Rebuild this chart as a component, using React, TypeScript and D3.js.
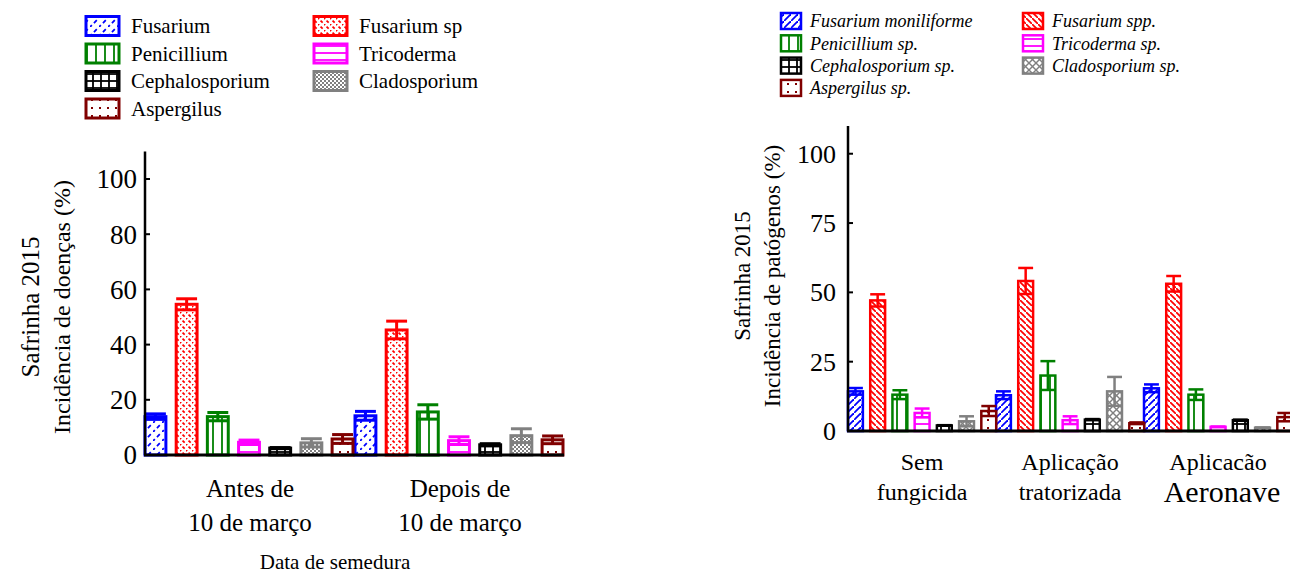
import React, { useEffect, useRef } from 'react';
import * as d3 from 'd3';

// left panel: sowing date
const groupsLeft = [['Antes de', '10 de março'], ['Depois de', '10 de março']];
const fungiLeft = ['Fusarium', 'Fusarium sp', 'Penicillium', 'Tricoderma', 'Cephalosporium', 'Cladosporium', 'Aspergilus'];
const meanLeft = [
  [13.9, 14.2],
  [54.6, 45.3],
  [13.9, 15.6],
  [4.6, 5.2],
  [2.5, 3.7],
  [4.4, 7.0],
  [5.8, 5.5],
];
const errLeft = [
  [1.0, 1.6],
  [2.0, 3.2],
  [1.5, 2.6],
  [0.8, 1.4],
  [0.2, 0.4],
  [1.5, 2.5],
  [1.6, 1.4],
];
const ticksLeft = [0, 20, 40, 60, 80, 100];

// right panel: fungicide application
const groupsRight = [['Sem', 'fungicida'], ['Aplicação', 'tratorizada'], ['Aplicacão', 'Aeronave']];
const fungiRight = ['Fusarium moniliforme', 'Fusarium spp.', 'Penicillium sp.', 'Tricoderma sp.', 'Cephalosporium sp.', 'Cladosporium sp.', 'Aspergilus sp.'];
const meanRight = [
  [14.3, 12.9, 15.4],
  [47.1, 54.1, 53.1],
  [13.1, 20.0, 13.1],
  [6.5, 3.9, 1.5],
  [2.0, 4.1, 3.9],
  [3.5, 14.3, 1.2],
  [7.2, 2.8, 5.0],
];
const errRight = [
  [1.2, 1.4, 1.4],
  [2.2, 4.7, 2.8],
  [1.6, 5.2, 1.9],
  [1.6, 1.4, 0.1],
  [0.1, 0.2, 0.2],
  [1.8, 5.2, 0.0],
  [1.8, 0.3, 1.5],
];
const ticksRight = [0, 25, 50, 75, 100];

const colors = ['#0000ff', '#ff0000', '#008000', '#ff00ff', '#000000', '#808080', '#800000'];
const FONT = "'Liberation Serif', 'Times New Roman', Times, serif";

type Defs = d3.Selection<SVGDefsElement, unknown, null, undefined>;

// hatch patterns, one per fungus
const addPatterns = (defs: Defs, prefix: string, dashed: boolean) => {
  const mk = (i: number, w: number, h: number) => {
    const p = defs.append('pattern')
      .attr('id', `${prefix}${i}`)
      .attr('patternUnits', 'userSpaceOnUse')
      .attr('width', w)
      .attr('height', h);
    p.append('rect').attr('width', w).attr('height', h).attr('fill', '#fff');
    return p;
  };
  const line = (p: any, x1: number, y1: number, x2: number, y2: number, c: string, sw = 1.6, da: string | null = null) =>
    p.append('line').attr('x1', x1).attr('y1', y1).attr('x2', x2).attr('y2', y2)
      .attr('stroke', c).attr('stroke-width', sw).attr('stroke-dasharray', da);

  // 0 Fusarium: "/" diagonals
  let s = dashed ? 9 : 7;
  let p = mk(0, s, s);
  line(p, -1, s + 1, s + 1, -1, colors[0], 1.8, dashed ? '4 3' : null);
  // 1 Fusarium sp: "\" diagonals
  s = 6;
  p = mk(1, s, s);
  line(p, -1, -1, s + 1, s + 1, colors[1], 1.7, dashed ? '3 2' : null);
  // 2 Penicillium: vertical lines
  p = mk(2, 9, 10);
  line(p, 6, 0, 6, 10, colors[2], 1.8);
  // 3 Tricoderma: horizontal lines
  p = mk(3, 10, 7);
  line(p, 0, 4, 10, 4, colors[3], 1.8);
  // 4 Cephalosporium: grid
  p = mk(4, 8, 7);
  line(p, 5, 0, 5, 7, colors[4], 1.8);
  line(p, 0, 4, 8, 4, colors[4], 1.8);
  // 5 Cladosporium: checker / crosshatch
  if (dashed) {
    p = mk(5, 4, 4);
    p.append('rect').attr('width', 2).attr('height', 2).attr('fill', colors[5]);
    p.append('rect').attr('x', 2).attr('y', 2).attr('width', 2).attr('height', 2).attr('fill', colors[5]);
  } else {
    p = mk(5, 7, 7);
    line(p, 0, 0, 7, 7, colors[5], 1.4);
    line(p, 0, 7, 7, 0, colors[5], 1.4);
  }
  // 6 Aspergilus: dots
  p = mk(6, 8, 8);
  p.append('rect').attr('x', 3).attr('y', 3).attr('width', 2).attr('height', 2).attr('fill', colors[6]);
};

const App = () => {
  const ref = useRef<SVGSVGElement>(null);

  useEffect(() => {
    if (!ref.current) return;
    const svg = d3.select(ref.current);
    svg.selectAll('*').remove();
    const defs = svg.append('defs');
    addPatterns(defs, 'pl', true);
    addPatterns(defs, 'pr', false);

    const drawPanel = (cfg: any) => {
      const g = svg.append('g');
      const y = d3.scaleLinear().domain([0, 110]).range(cfg.yRange);
      const x0 = d3.scaleBand<number>().domain(cfg.groups.map((_: any, i: number) => i)).range(cfg.xRange);
      const x1 = d3.scaleBand<number>().domain(d3.range(7)).range([0, cfg.innerWidth]).paddingInner(0.33);
      const bw = x1.bandwidth();

      // bars
      cfg.fungi.forEach((_: string, f: number) => {
        cfg.groups.forEach((_g: any, k: number) => {
          const v = cfg.mean[f][k];
          const e = cfg.err[f][k];
          const bx = x0(k)! + x1(f)!;
          g.append('rect')
            .attr('x', bx)
            .attr('y', y(v))
            .attr('width', bw)
            .attr('height', y(0) - y(v))
            .attr('fill', `url(#${cfg.pid}${f})`)
            .attr('stroke', colors[f])
            .attr('stroke-width', cfg.barStroke);
          // error bar
          const cx = bx + bw / 2;
          const eb = g.append('g').attr('stroke', colors[f]).attr('stroke-width', cfg.errStroke);
          eb.append('line').attr('x1', cx).attr('x2', cx).attr('y1', y(v - e)).attr('y2', y(v + e));
          [v - e, v + e].forEach((t) => {
            eb.append('line').attr('x1', bx).attr('x2', bx + bw).attr('y1', y(t)).attr('y2', y(t));
          });
        });
      });

      // axes
      const ax = cfg.xRange[0];
      g.append('line').attr('x1', ax).attr('x2', ax).attr('y1', y(0)).attr('y2', y(110))
        .attr('stroke', '#000').attr('stroke-width', 2.5);
      g.append('line').attr('x1', ax - 1).attr('x2', cfg.axisEnd).attr('y1', y(0)).attr('y2', y(0))
        .attr('stroke', '#000').attr('stroke-width', 3);
      cfg.ticks.forEach((t: number) => {
        g.append('line').attr('x1', ax).attr('x2', ax + 5).attr('y1', y(t)).attr('y2', y(t))
          .attr('stroke', '#000').attr('stroke-width', 2);
        g.append('text')
          .attr('x', ax - cfg.tickGap)
          .attr('y', y(t))
          .attr('dy', '0.35em')
          .attr('text-anchor', 'end')
          .style('font-size', `${cfg.tickFs}px`)
          .text(t);
      });

      // group labels
      cfg.groups.forEach((lines: string[], k: number) => {
        const cx = x0(k)! + x0.bandwidth() / 2;
        lines.forEach((ln, j) => {
          const big = cfg.bigLast && k === cfg.groups.length - 1 && j === 1;
          g.append('text')
            .attr('x', cx + (big ? 4 : 0))
            .attr('y', cfg.labelY[j] + (big ? 2 : 0))
            .attr('text-anchor', 'middle')
            .style('font-size', big ? '30px' : `${cfg.labelFs}px`)
            .text(ln);
        });
      });

      // y titles
      cfg.yTitles.forEach((tt: string, j: number) => {
        g.append('text')
          .attr('transform', `translate(${cfg.yTitleX[j]},${cfg.yTitleMid}) rotate(-90)`)
          .attr('text-anchor', 'middle')
          .style('font-size', `${cfg.titleFs[j]}px`)
          .text(tt);
      });

      // legend
      const lg = cfg.legend;
      cfg.fungi.forEach((name: string, f: number) => {
        const col = f % 2;
        const row = Math.floor(f / 2);
        const lx = lg.x[col];
        const ly = lg.y0 + row * lg.dy;
        g.append('rect')
          .attr('x', lx)
          .attr('y', ly - lg.h / 2)
          .attr('width', lg.w)
          .attr('height', lg.h)
          .attr('fill', `url(#${cfg.pid}${f})`)
          .attr('stroke', colors[f])
          .attr('stroke-width', lg.stroke);
        g.append('text')
          .attr('x', lx + lg.w + lg.gap)
          .attr('y', ly)
          .attr('dy', '0.35em')
          .style('font-size', `${lg.fs}px`)
          .style('font-style', lg.italic ? 'italic' : 'normal')
          .text(name);
      });
    };

    drawPanel({
      pid: 'pl',
      groups: groupsLeft,
      fungi: fungiLeft,
      mean: meanLeft,
      err: errLeft,
      ticks: ticksLeft,
      tickFs: 27,
      tickGap: 8,
      yRange: [455, 151.4],
      xRange: [145, 565],
      innerWidth: 208,
      axisEnd: 564,
      barStroke: 3,
      errStroke: 3,
      labelY: [497, 531],
      labelFs: 25,
      bigLast: false,
      yTitles: ['Safrinha 2015', 'Incidência de doenças (%)'],
      titleFs: [25, 24],
      yTitleX: [39, 70],
      yTitleMid: 307,
      legend: { x: [86, 314], y0: 26, dy: 27.5, w: 33, h: 19, stroke: 3, gap: 12, fs: 21, italic: false },
    });

    drawPanel({
      pid: 'pr',
      groups: groupsRight,
      fungi: fungiRight,
      mean: meanRight,
      err: errRight,
      ticks: ticksRight,
      tickFs: 26,
      tickGap: 12,
      yRange: [431, 126],
      xRange: [848, 1292],
      innerWidth: 148.2,
      axisEnd: 1292,
      barStroke: 2.5,
      errStroke: 2.5,
      labelY: [470, 500],
      labelFs: 24,
      bigLast: true,
      yTitles: ['Safrinha 2015', 'Incidência de patógenos (%)'],
      titleFs: [23, 23],
      yTitleX: [750, 780],
      yTitleMid: 276,
      legend: { x: [781, 1023], y0: 21, dy: 22.3, w: 20, h: 16, stroke: 2.5, gap: 9, fs: 18, italic: true },
    });

    // x title (left panel only)
    svg.append('text')
      .attr('x', 335)
      .attr('y', 569)
      .attr('text-anchor', 'middle')
      .style('font-size', '21px')
      .text('Data de semedura');
  }, []);

  return (
    <svg
      ref={ref}
      width={1290}
      height={576}
      style={{ position: 'absolute', left: 0, top: 0, background: '#fff', fontFamily: FONT }}
    />
  );
};

export default App;
